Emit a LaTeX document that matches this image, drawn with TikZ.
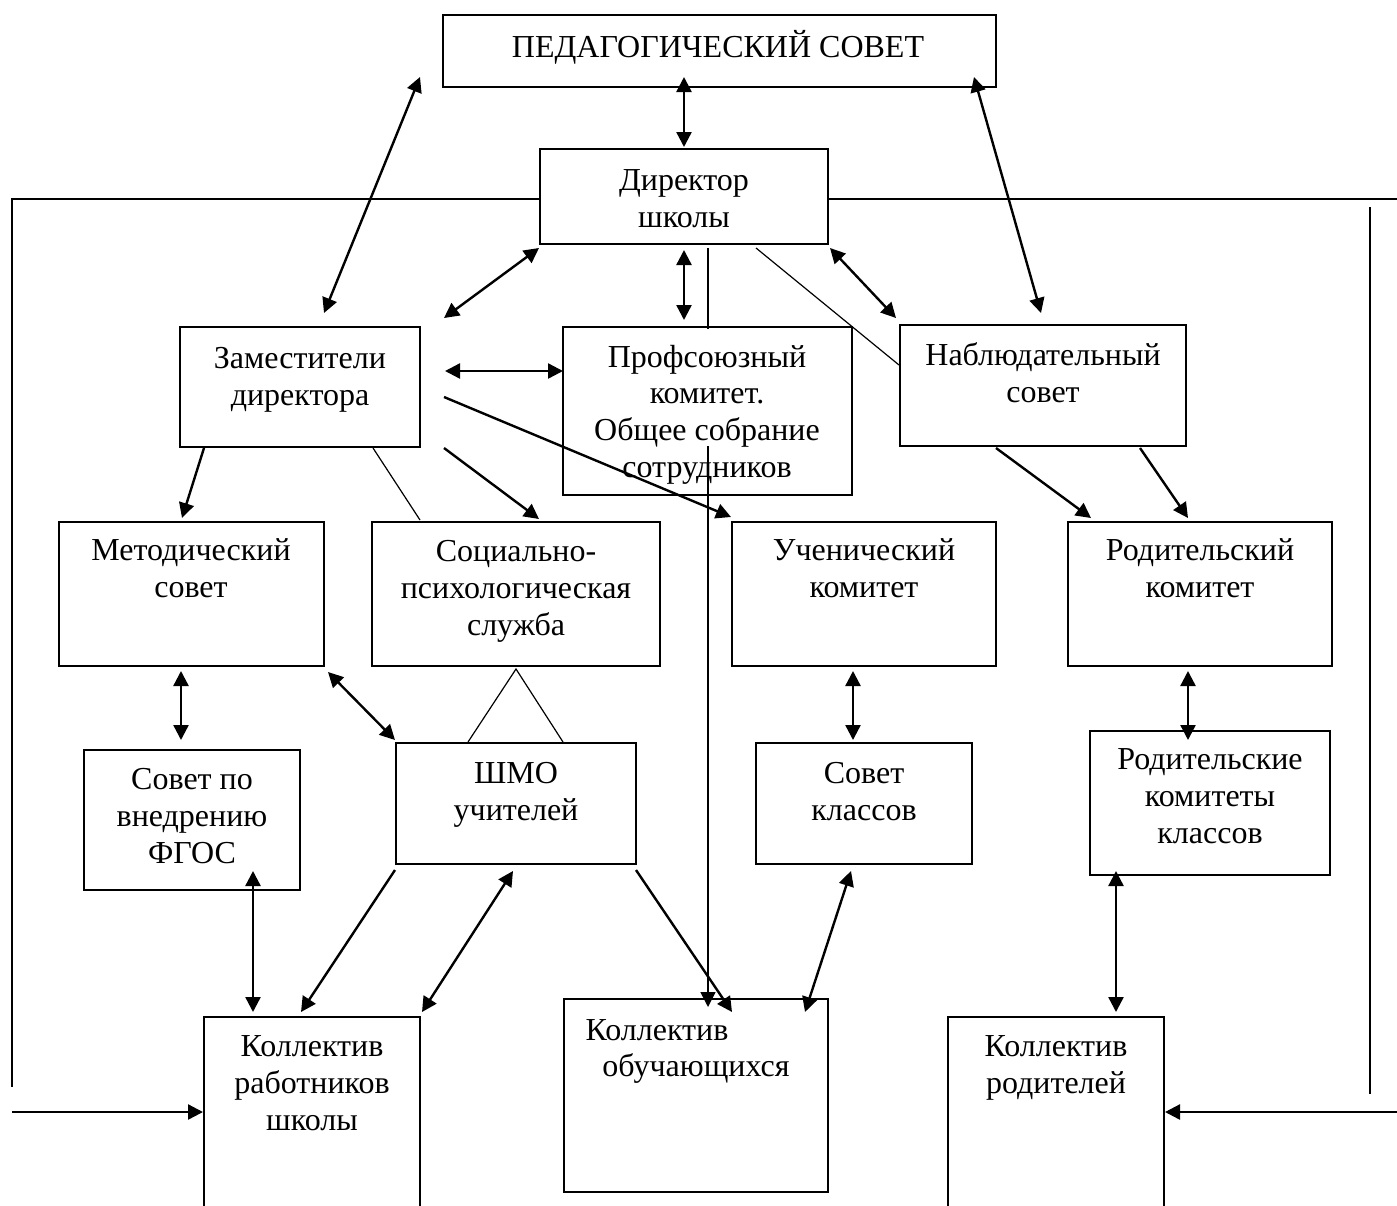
\documentclass[tikz,border=0pt]{standalone}
\usepackage{fontspec}
\setmainfont{Liberation Serif}
\usetikzlibrary{arrows.meta,fit}
\begin{document}
\begin{tikzpicture}[x=0.5pt,y=-0.5pt,
  box/.style={draw, line width=1pt, rectangle, inner sep=0pt},
  lbl/.style={font=\fontsize{16pt}{18.3pt}\selectfont, align=center, anchor=base, inner sep=0pt},
  thk/.style={line width=1.2pt},
  thn/.style={line width=0.6pt},
  both/.style={thk,{Triangle[length=7.5pt,width=7.5pt]}-{Triangle[length=7.5pt,width=7.5pt]}},
  one/.style={thk,-{Triangle[length=7.5pt,width=7.5pt]}}]
\useasboundingbox (0,0) rectangle (1397,1205);
\clip (0,0) rectangle (1397,1205);

% boxes
\node[box, fit={(443,15)(996,87)}] (ped) {};
\node[box, fit={(540,149)(828,244)}] (dir) {};
\node[box, fit={(180,327)(420,447)}] (zam) {};
\node[box, fit={(563,327)(852,495)}] (prof) {};
\node[box, fit={(900,325)(1186,446)}] (nabl) {};
\node[box, fit={(59,522)(324,666)}] (metod) {};
\node[box, fit={(372,522)(660,666)}] (soc) {};
\node[box, fit={(732,522)(996,666)}] (uch) {};
\node[box, fit={(1068,522)(1332,666)}] (rod) {};
\node[box, fit={(84,750)(300,890)}] (fgos) {};
\node[box, fit={(396,743)(636,864)}] (shmo) {};
\node[box, fit={(756,743)(972,864)}] (sovkl) {};
\node[box, fit={(1090,731)(1330,875)}] (rodkl) {};
\node[box, fit={(204,1017)(420,1230)}] (kr) {};
\node[box, fit={(564,999)(828,1192)}] (obu) {};
\node[box, fit={(948,1017)(1164,1230)}] (kolrod) {};

% connector end points
\coordinate (pz1) at (420,77);   \coordinate (pz2) at (324,313);
\coordinate (pd1) at (684,77);   \coordinate (pd2) at (684,147);
\coordinate (pn1) at (974,77);   \coordinate (pn2) at (1041,313);
\coordinate (dz1) at (539,248);  \coordinate (dz2) at (444,318);
\coordinate (dp1) at (684,250);  \coordinate (dp2) at (684,320);
\coordinate (do1) at (708,248);  \coordinate (do2) at (708,1007);
\coordinate (dl1) at (756,248);  \coordinate (dl2) at (899,365);
\coordinate (dn1) at (830,248);  \coordinate (dn2) at (896,318);
\coordinate (zp1) at (445,371);  \coordinate (zp2) at (563,371);
\coordinate (zu1) at (444,397);  \coordinate (zu2) at (731,517);
\coordinate (zm1) at (204,448);  \coordinate (zm2) at (182,518);
\coordinate (zl1) at (373,448);  \coordinate (zl2) at (420,520);
\coordinate (zs1) at (444,448);  \coordinate (zs2) at (539,519);
\coordinate (nr1) at (996,448);  \coordinate (nr2) at (1091,518);
\coordinate (nq1) at (1140,448); \coordinate (nq2) at (1188,518);
\coordinate (mf1) at (181,671);  \coordinate (mf2) at (181,740);
\coordinate (ms1) at (328,672);  \coordinate (ms2) at (395,740);
\coordinate (tr1) at (468,742);  \coordinate (tr2) at (516,669);  \coordinate (tr3) at (563,742);
\coordinate (us1) at (853,671);  \coordinate (us2) at (853,740);
\coordinate (rr1) at (1188,671); \coordinate (rr2) at (1188,740);
\coordinate (fk1) at (253,871);  \coordinate (fk2) at (253,1012);
\coordinate (sk1) at (395,870);  \coordinate (sk2) at (301,1012);
\coordinate (ks1) at (422,1012); \coordinate (ks2) at (513,871);
\coordinate (so1) at (636,870);  \coordinate (so2) at (732,1012);
\coordinate (ko1) at (851,871);  \coordinate (ko2) at (805,1012);
\coordinate (rk1) at (1116,871); \coordinate (rk2) at (1116,1012);
\coordinate (fl1) at (540,199);  \coordinate (fl2) at (12,199);   \coordinate (fl3) at (12,1087);
\coordinate (fr1) at (828,199);  \coordinate (fr2) at (1397,199);
\coordinate (rv1) at (1370,207); \coordinate (rv2) at (1370,1094);
\coordinate (la1) at (12,1112);  \coordinate (ra1) at (1397,1112);

% connectors
\draw[both] (pz1) -- (pz2);
\draw[both] (pd1) -- (pd2);
\draw[both] (pn1) -- (pn2);
\draw[both] (dz1) -- (dz2);
\draw[both] (dp1) -- (dp2);
\draw[line width=0.8pt,-{Triangle[length=7.5pt,width=7.5pt]}] (do1) -- (do2);
\draw[thn] (dl1) -- (dl2);
\draw[both] (dn1) -- (dn2);
\draw[both] (zp1) -- (zp2);
\draw[one] (zu1) -- (zu2);
\draw[one] (zm1) -- (zm2);
\draw[thn] (zl1) -- (zl2);
\draw[one] (zs1) -- (zs2);
\draw[one] (nr1) -- (nr2);
\draw[one] (nq1) -- (nq2);
\draw[both] (mf1) -- (mf2);
\draw[both] (ms1) -- (ms2);
\draw[thn] (tr1) -- (tr2) -- (tr3);
\draw[both] (us1) -- (us2);
\draw[both] (rr1) -- (rr2);
\draw[both] (fk1) -- (fk2);
\draw[one] (sk1) -- (sk2);
\draw[both] (ks1) -- (ks2);
\draw[one] (so1) -- (so2);
\draw[both] (ko1) -- (ko2);
\draw[both] (rk1) -- (rk2);
\draw[thk] (fl1) -- (fl2) -- (fl3);
\draw[thk] (fr1) -- (fr2);
\draw[thn] (rv1) -- (rv2);
\draw[one] (la1) -- (kr.west |- la1);
\draw[one] (ra1) -- (kolrod.east |- ra1);

% text area of the trade-union box covers the lines
\fill[white] (565,329) rectangle (850,446);

% texts (anchor = baseline of the last line)
\node[lbl] (pedT) at (718,57) {ПЕДАГОГИЧЕСКИЙ СОВЕТ};
\node[lbl] (dirT) at (684,227) {Директор\\школы};
\node[lbl] (zamT) at (300,405) {Заместители\\директора};
\node[lbl] (profT) at (707,477) {Профсоюзный\\комитет.\\Общее собрание\\сотрудников};
\node[lbl] (nablT) at (1043,402) {Наблюдательный\\совет};
\node[lbl] (metodT) at (191,597) {Методический\\совет};
\node[lbl] (socT) at (516,635) {Социально-\\психологическая\\служба};
\node[lbl] (uchT) at (864,597) {Ученический\\комитет};
\node[lbl] (rodT) at (1200,597) {Родительский\\комитет};
\node[lbl] (fgosT) at (192,863) {Совет по\\внедрению\\ФГОС};
\node[lbl] (shmoT) at (516,820) {ШМО\\учителей};
\node[lbl] (sovklT) at (864,820) {Совет\\классов};
\node[lbl] (rodklT) at (1210,843) {Родительские\\комитеты\\классов};
\node[lbl] (krT) at (312,1130) {Коллектив\\работников\\школы};
\node[lbl] (obuT1) at (657,1040) {Коллектив};
\node[lbl] (obuT2) at (696,1076) {обучающихся};
\node[lbl] (kolrodT) at (1056,1093) {Коллектив\\родителей};
\end{tikzpicture}
\end{document}
